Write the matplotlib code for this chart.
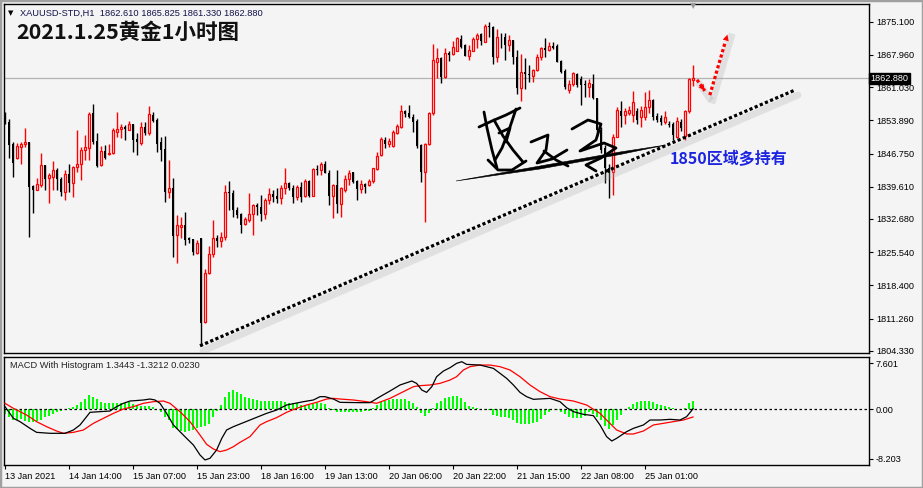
import numpy as np
import matplotlib
matplotlib.use("Agg")
import matplotlib.pyplot as plt
from matplotlib import transforms
from matplotlib.patches import Rectangle, Polygon

# XAUUSD H1 candles (open, high, low, close)
opens = [1854.7, 1853.5, 1848.8, 1845.7, 1848.1, 1848.7, 1849.2, 1839.8, 1839.0, 1839.9,
         1844.2, 1841.4, 1841.8, 1843.1, 1841.3, 1838.5, 1842.3, 1840.5, 1843.8, 1844.6,
         1847.6, 1847.9, 1855.4, 1849.4, 1844.3, 1847.3, 1846.7, 1846.8, 1851.4, 1852.1,
         1852.5, 1851.9, 1853.2, 1849.9, 1849.1, 1852.4, 1851.1, 1855.0, 1853.9, 1849.3,
         1847.7, 1838.4, 1839.3, 1829.3, 1831.0, 1831.4, 1828.5, 1828.3, 1825.3, 1828.5,
         1810.6, 1821.1, 1825.1, 1828.5, 1828.0, 1828.7, 1838.5, 1838.2, 1834.6, 1833.7,
         1831.5, 1832.5, 1833.7, 1835.7, 1835.2, 1833.7, 1836.8, 1838.0, 1837.6, 1837.1,
         1839.3, 1840.3, 1839.4, 1837.3, 1839.5, 1837.6, 1840.9, 1837.7, 1843.4, 1843.1,
         1844.6, 1842.6, 1837.7, 1839.9, 1835.8, 1838.8, 1841.2, 1842.8, 1840.9, 1839.2,
         1840.2, 1840.0, 1840.8, 1843.4, 1846.4, 1849.7, 1848.7, 1848.4, 1851.2, 1852.4,
         1855.9, 1855.4, 1854.7, 1853.7, 1848.6, 1842.8, 1848.7, 1855.4, 1866.5, 1867.2,
         1863.1, 1868.3, 1868.1, 1868.8, 1871.4, 1870.1, 1867.8, 1868.8, 1871.4, 1872.4,
         1870.8, 1874.2, 1874.0, 1867.4, 1871.9, 1871.7, 1870.1, 1871.2, 1867.4, 1860.8,
         1864.2, 1863.9, 1863.5, 1864.7, 1867.4, 1869.4, 1869.0, 1869.9, 1869.9, 1866.6,
         1864.4, 1860.5, 1861.7, 1863.9, 1862.7, 1861.7, 1861.1, 1861.8, 1858.6, 1851.8,
         1848.0, 1843.6, 1842.8, 1850.4, 1855.9, 1855.0, 1855.5, 1855.0, 1855.8, 1854.7,
         1854.7, 1856.8, 1858.3, 1854.8, 1854.3, 1853.6, 1853.2, 1853.2, 1850.4, 1853.6,
         1850.5, 1855.8, 1862.61]
highs = [1855.7, 1854.1, 1849.3, 1849.1, 1849.3, 1852.2, 1849.3, 1840.0, 1841.4, 1846.8,
         1844.3, 1842.5, 1845.1, 1843.6, 1841.6, 1843.2, 1844.6, 1844.1, 1851.9, 1848.2,
         1850.7, 1855.7, 1857.4, 1851.1, 1848.4, 1848.6, 1848.9, 1852.2, 1855.7, 1853.2,
         1852.9, 1853.8, 1853.2, 1851.1, 1853.6, 1853.6, 1857.0, 1855.7, 1854.3, 1850.4,
         1850.5, 1845.4, 1841.4, 1833.5, 1833.2, 1834.2, 1828.9, 1828.3, 1828.2, 1828.5,
         1822.0, 1826.8, 1832.4, 1829.2, 1829.9, 1840.0, 1840.8, 1838.9, 1835.3, 1834.0,
         1833.2, 1838.3, 1835.9, 1836.0, 1837.8, 1837.1, 1839.3, 1838.9, 1839.3, 1840.0,
         1843.6, 1840.7, 1840.0, 1840.0, 1840.7, 1841.3, 1841.1, 1843.6, 1844.3, 1845.0,
         1845.1, 1843.1, 1840.2, 1843.1, 1839.6, 1842.1, 1843.1, 1842.8, 1841.1, 1841.1,
         1840.3, 1841.2, 1843.6, 1847.1, 1850.4, 1850.2, 1850.0, 1851.8, 1853.0, 1857.2,
         1856.1, 1857.2, 1855.2, 1854.1, 1848.9, 1849.1, 1855.7, 1870.2, 1869.4, 1867.4,
         1869.4, 1868.7, 1870.9, 1871.7, 1872.2, 1870.4, 1870.1, 1871.9, 1872.6, 1872.6,
         1874.7, 1875.1, 1874.2, 1873.5, 1872.6, 1872.6, 1872.2, 1871.2, 1869.0, 1868.1,
         1867.2, 1865.8, 1864.9, 1868.1, 1869.7, 1871.5, 1870.7, 1870.8, 1870.2, 1866.9,
         1864.9, 1862.6, 1864.3, 1864.0, 1863.4, 1862.6, 1862.7, 1863.9, 1858.6, 1852.5,
         1848.5, 1844.5, 1851.0, 1856.8, 1858.1, 1856.5, 1857.0, 1860.1, 1856.5, 1857.0,
         1860.0, 1860.3, 1858.5, 1855.5, 1855.0, 1855.8, 1853.8, 1853.5, 1854.5, 1854.2,
         1856.1, 1863.0, 1865.825]
lows = [1853.0, 1845.7, 1841.8, 1845.5, 1844.6, 1848.2, 1828.7, 1834.0, 1838.8, 1839.6,
        1838.9, 1836.0, 1839.0, 1838.9, 1837.7, 1836.8, 1838.5, 1837.3, 1842.8, 1841.1,
        1845.3, 1845.3, 1848.9, 1843.8, 1844.1, 1845.5, 1846.4, 1846.6, 1850.4, 1850.0,
        1849.7, 1851.8, 1847.1, 1846.4, 1848.6, 1850.7, 1850.7, 1853.6, 1847.1, 1845.2,
        1836.4, 1837.1, 1824.6, 1823.1, 1828.5, 1827.1, 1827.6, 1824.9, 1825.1, 1805.3,
        1810.2, 1820.8, 1824.6, 1826.6, 1826.7, 1828.1, 1834.6, 1833.0, 1832.8, 1829.7,
        1831.4, 1832.1, 1829.2, 1833.5, 1832.3, 1832.6, 1835.9, 1836.4, 1836.0, 1835.9,
        1838.0, 1839.0, 1836.2, 1836.8, 1836.4, 1837.3, 1837.5, 1837.7, 1842.1, 1842.1,
        1842.5, 1835.7, 1832.8, 1834.0, 1833.2, 1838.5, 1840.0, 1840.3, 1836.8, 1838.3,
        1838.3, 1839.8, 1840.5, 1843.2, 1846.2, 1847.9, 1848.2, 1848.2, 1850.9, 1852.2,
        1854.7, 1854.3, 1851.4, 1847.9, 1840.7, 1832.1, 1848.6, 1855.0, 1862.9, 1862.0,
        1862.9, 1866.6, 1867.9, 1868.7, 1869.4, 1867.8, 1866.9, 1868.7, 1869.4, 1870.1,
        1870.7, 1871.9, 1866.1, 1866.4, 1869.4, 1866.9, 1868.8, 1865.9, 1859.5, 1858.0,
        1860.6, 1862.2, 1862.2, 1864.5, 1866.9, 1867.6, 1868.8, 1869.2, 1866.4, 1864.0,
        1860.6, 1859.7, 1861.3, 1861.1, 1857.2, 1859.0, 1859.0, 1858.4, 1850.5, 1846.8,
        1840.3, 1837.1, 1837.8, 1850.2, 1852.5, 1853.0, 1855.0, 1853.5, 1853.0, 1852.5,
        1853.9, 1855.5, 1853.9, 1853.6, 1852.8, 1853.2, 1852.5, 1849.7, 1850.0, 1851.5,
        1849.6, 1855.5, 1861.33]
closes = [1853.2, 1848.6, 1844.8, 1848.4, 1848.8, 1849.2, 1839.6, 1838.9, 1840.1, 1844.2,
          1841.2, 1842.1, 1843.1, 1841.2, 1838.5, 1842.3, 1840.5, 1843.8, 1844.6, 1847.6,
          1848.1, 1855.2, 1849.3, 1844.1, 1847.3, 1845.7, 1846.9, 1851.8, 1852.0, 1852.4,
          1852.0, 1853.2, 1849.7, 1849.3, 1852.4, 1851.1, 1855.3, 1853.8, 1848.9, 1847.6,
          1838.4, 1839.3, 1829.1, 1831.3, 1831.4, 1828.1, 1828.1, 1825.6, 1827.4, 1810.2,
          1821.0, 1825.1, 1828.5, 1828.0, 1828.9, 1838.4, 1838.2, 1834.6, 1833.5, 1831.4,
          1832.6, 1833.7, 1835.7, 1835.2, 1833.7, 1836.8, 1838.0, 1837.5, 1837.0, 1839.3,
          1840.3, 1839.3, 1837.3, 1839.5, 1837.5, 1840.8, 1837.7, 1843.4, 1843.1, 1844.6,
          1842.6, 1837.7, 1839.9, 1835.8, 1839.4, 1841.2, 1842.6, 1840.7, 1839.2, 1840.2,
          1839.6, 1840.8, 1843.6, 1846.2, 1849.8, 1848.7, 1849.4, 1851.3, 1852.7, 1855.9,
          1855.2, 1854.5, 1853.6, 1848.4, 1842.8, 1848.8, 1855.4, 1866.9, 1867.2, 1863.1,
          1868.3, 1867.9, 1869.7, 1871.5, 1869.7, 1867.8, 1869.0, 1871.4, 1872.2, 1870.9,
          1874.2, 1874.0, 1867.4, 1871.9, 1871.7, 1870.1, 1871.2, 1867.4, 1860.8, 1864.2,
          1863.9, 1863.6, 1864.7, 1867.6, 1869.4, 1869.0, 1869.9, 1869.5, 1866.5, 1864.3,
          1861.0, 1861.7, 1864.0, 1861.5, 1861.5, 1861.5, 1862.0, 1858.6, 1851.8, 1847.5,
          1843.6, 1842.6, 1850.4, 1856.0, 1854.8, 1855.8, 1856.1, 1857.9, 1854.0, 1856.1,
          1856.8, 1858.3, 1854.7, 1854.0, 1853.6, 1854.5, 1852.9, 1850.7, 1853.8, 1852.2,
          1855.8, 1862.7, 1862.88]

# MACD histogram, one value per candle
hist = [-0.9, -1.3, -1.8, -1.9, -1.7, -2.0, -2.1, -2.1, -2.0, -1.8,
        -1.4, -1.1, -0.9, -0.55, -0.3, -0.05, 0.1, 0.4, 0.65, 1.2,
        1.65, 2.3, 2.0, 1.65, 1.2, 0.95, 0.95, 0.95, 0.95, 1.05,
        1.05, 1.2, 0.8, 0.65, 0.55, 0.55, 0.5, 0.4, 0.0, -0.45,
        -1.3, -1.8, -3.1, -3.3, -3.6, -3.75, -3.6, -3.5, -3.2, -2.9,
        -2.75, -2.4, -1.3, -0.3, 0.65, 2.0, 2.85, 3.1, 2.85, 2.4,
        2.0, 1.75, 1.65, 1.5, 1.3, 1.3, 1.3, 1.3, 1.3, 1.3,
        1.2, 0.95, 0.95, 0.95, 0.65, 0.65, 0.65, 0.75, 0.95, 0.95,
        0.75, 0.2, -0.15, -0.55, -0.55, -0.55, -0.5, -0.5, -0.5, -0.5,
        -0.4, -0.3, 0.1, 0.65, 1.1, 1.3, 1.5, 1.65, 1.65, 1.65,
        1.6, 1.3, 0.95, 0.4, -0.7, -1.1, -0.7, 0.1, 0.95, 1.4,
        1.9, 2.05, 2.15, 2.15, 1.75, 1.1, 0.55, 0.4, 0.2, -0.05,
        -0.15, -0.15, -1.0, -1.15, -1.25, -1.4, -1.55, -1.8, -2.35, -2.55,
        -2.55, -2.55, -2.35, -2.1, -1.65, -1.0, -0.45, 0.0, -0.15, -0.45,
        -0.9, -1.25, -1.45, -1.45, -1.45, -1.1, -0.45, -0.9, -1.25, -1.8,
        -2.75, -3.3, -2.65, -1.8, -1.0, 0.0, 0.4, 0.8, 1.1, 1.3,
        1.3, 1.3, 1.1, 0.8, 0.65, 0.5, 0.3, 0.1, 0.0, -0.15,
        0.1, 0.95, 1.3443]

# MACD main line (black) and signal line (red), read at these candle indices
macd_idx = [0, 2.1, 3.75, 6.25, 7.9, 11.25, 15, 17.1, 18.75, 20.4, 21.25, 23.75, 26.25,
            27.9, 29.6, 31.25, 34.6, 36.25, 37.5, 38.75, 40.4, 42.1, 43.75, 45.4, 47.1,
            48.75, 50, 51.25, 52.9, 54.2, 55.4, 57.1, 61.25, 65.4, 67.9, 70.4, 74.6, 77.1,
            78.75, 80, 82.1, 83.75, 88.75, 91.25, 93.75, 96.25, 98.75, 101.7, 102.9, 104.2,
            105.4, 106.7, 107.9, 109.6, 111.25, 112.9, 114.2, 115.4, 118.75, 122.1, 123.75,
            125.4, 127.1, 128.75, 130.4, 132.1, 136.25, 138.75, 140.4, 142.1, 144.6, 147.1,
            148.75, 150.4, 151.7, 152.9, 155.4, 157.1, 159.6, 161.25, 163.75, 166.25,
            168.75, 170.4, 172]
macd_val = [0.39, -1.54, -2.09, -3.2, -3.86, -4.02, -4.02, -3.47, -2.64, -1.27, -0.55,
            -0.44, -0.33, 0.39, 0.94, 1.32, 1.49, 1.65, 1.49, 0.94, -0.72, -2.64, -3.75,
            -4.85, -5.95, -7.6, -8.43, -8.15, -6.78, -4.85, -3.47, -2.92, -1.82, -0.72,
            -0.17, 0.66, 1.21, 1.49, 2.04, 2.04, 1.65, 1.1, 1.05, 1.05, 2.04, 2.98, 3.97,
            4.63, 4.24, 3.14, 2.75, 3.69, 5.34, 6.28, 6.83, 7.55, 7.82, 7.38, 7.27, 6.72,
            5.9, 5.07, 3.97, 2.75, 2.04, 1.6, 1.76, 1.21, 0.22, -0.44, -0.88, -1.1, -2.64,
            -4.57, -5.29, -4.85, -3.75, -3.2, -2.64, -1.82, -1.82, -1.71, -1.82, -1.27,
            0.023]
signal_idx = [0, 2.1, 5.4, 7.9, 10.4, 12.9, 14.6, 17.1, 19.6, 22.1, 24.6, 27.1, 29.6,
              32.1, 34.6, 37.1, 39.6, 41.25, 43.75, 46.25, 48.75, 50.4, 52.1, 53.75,
              55.4, 57.1, 58.75, 61.25, 63.75, 65.4, 67.9, 70.4, 72.9, 75.4, 77.9, 80.4,
              82.1, 83.75, 87.1, 90.4, 92.9, 96.25, 99.6, 102.1, 103.75, 106.25, 108.75,
              111.25, 112.9, 114.6, 116.25, 118.75, 121.25, 123.75, 126.25, 128.75,
              131.25, 133.75, 136.25, 138.75, 142.1, 145.4, 148.75, 150.4, 152.9, 155.4,
              157.1, 159.6, 162.1, 164.6, 167.1, 169.6, 172]
signal_val = [0.94, 0.11, -0.99, -2.09, -2.92, -3.64, -4.02, -3.86, -3.47, -2.37, -1.54,
              -0.72, 0.0, 0.39, 0.94, 1.21, 1.32, 0.94, -0.44, -2.09, -4.3, -5.84, -6.61,
              -7.05, -6.78, -6.23, -5.51, -4.57, -2.64, -2.09, -1.43, -0.55, 0.11, 0.66,
              1.1, 1.65, 1.76, 1.65, 1.49, 1.21, 0.94, 1.76, 2.87, 3.69, 3.86, 3.97, 4.24,
              4.79, 5.34, 6.45, 7.0, 7.27, 7.27, 7.0, 6.45, 5.34, 3.97, 2.87, 2.04, 1.65,
              1.32, 0.66, -0.72, -1.82, -3.47, -4.13, -4.13, -3.64, -2.64, -2.37, -2.09,
              -1.82, -1.3212]

price_ticks = [1875.100, 1867.960, 1861.030, 1853.890, 1846.750, 1839.610,
               1832.680, 1825.540, 1818.400, 1811.260, 1804.330]
macd_ticks = [7.601, 0.0, -8.203]
macd_tick_labels = ['7.601', '0.00', '-8.203']
time_labels = ['13 Jan 2021', '14 Jan 14:00', '15 Jan 07:00', '15 Jan 23:00',
               '18 Jan 16:00', '19 Jan 13:00', '20 Jan 06:00', '20 Jan 22:00',
               '21 Jan 15:00', '22 Jan 08:00', '25 Jan 01:00']
time_label_idx = [0, 16, 32, 48, 64, 80, 96, 112, 128, 144, 160]
last_price = 1862.88

# support line and the projected path (candle index, price)
trend_x = [48.75, 197.5]
trend_y = [1805.4, 1860.4]
path1_x = [173.0, 175.3]
path1_y = [1862.6, 1859.8]
path2_x = [176.2, 180.8]
path2_y = [1859.3, 1872.9]

# rough hand-signature watermark, in screen pixels (x right, y down)
sig_strokes = [
    [(484, 112), (487, 128), (492, 150), (497, 168)],
    [(479, 127), (492, 121), (506, 115), (520, 108)],
    [(494, 120), (503, 136), (513, 150), (523, 162)],
    [(516, 109), (509, 130), (502, 148), (495, 160)],
    [(488, 160), (498, 170), (512, 170), (526, 161)],
    [(499, 133), (510, 128), (506, 142)],
    [(531, 142), (548, 135), (546, 150), (537, 163), (552, 159), (567, 150)],
    [(544, 151), (556, 160), (568, 166)],
    [(572, 129), (588, 120), (601, 124), (596, 140), (580, 151), (604, 143),
     (616, 148), (601, 158), (586, 165), (596, 171)],
]
sig_sweep = [(456, 181), (540, 166), (620, 152), (666, 145), (620, 154.5), (540, 169)]

BG = '#f4f4f4'
plt.rcParams['font.family'] = ['Liberation Sans', 'DejaVu Sans']

fig = plt.figure(figsize=(9.23, 4.88), dpi=100, facecolor=BG)
W, H = 923.0, 488.0
ax = fig.add_axes([4 / W, 1 - 353 / H, 865 / W, 349 / H], facecolor=BG)
ax2 = fig.add_axes([4 / W, 1 - 465 / H, 865 / W, 108 / H], facecolor=BG, sharex=ax)

x = np.arange(len(closes))
o = np.array(opens); c = np.array(closes); h = np.array(highs); l = np.array(lows)
up = c >= o
top = np.maximum(o, c); bot = np.minimum(o, c)

# wicks
ax.vlines(x[up], l[up], h[up], color='red', lw=1.0, zorder=2)
ax.vlines(x[~up], l[~up], h[~up], color='black', lw=1.0, zorder=2)
# bodies
ax.bar(x[up], np.maximum(top[up] - bot[up], 0.12), bottom=bot[up], width=0.5,
       facecolor=BG, edgecolor='red', linewidth=0.9, zorder=3)
ax.bar(x[~up], np.maximum(top[~up] - bot[~up], 0.12), bottom=bot[~up], width=0.62,
       color='black', linewidth=0, zorder=3)

ax.axhline(last_price, color='#b4b4b4', lw=0.9, zorder=1)

# dotted support line with soft shadow
shadow = transforms.offset_copy(ax.transData, fig=fig, x=3, y=-5, units='dots')
ax.plot(trend_x, trend_y, color='#a8a8a8', lw=5, alpha=0.25, transform=shadow,
        solid_capstyle='round', zorder=4)
ax.plot(trend_x, trend_y, color='black', lw=2.3, ls=(0, (1, 0.75)),
        dash_capstyle='butt', zorder=5)

for px, py in [(path1_x, path1_y), (path2_x, path2_y)]:
    ax.plot(px, py, color='#a8a8a8', lw=5, alpha=0.25, transform=shadow, zorder=4)
    ax.plot(px[:1] + [px[0] + 0.85 * (px[1] - px[0])],
            py[:1] + [py[0] + 0.85 * (py[1] - py[0])],
            color='red', lw=2.3, ls=(0, (1, 0.75)), dash_capstyle='butt', zorder=5)
    ax.annotate('', xy=(px[1], py[1]), xytext=(px[0] + 0.6 * (px[1] - px[0]),
                                                 py[0] + 0.6 * (py[1] - py[0])),
                arrowprops=dict(arrowstyle='-|>', color='red', lw=0,
                                mutation_scale=11), zorder=6)

# signature watermark drawn in pixel space
pix = transforms.Affine2D().scale(1, -1).translate(0, H)
for stroke in sig_strokes:
    sx, sy = zip(*stroke)
    ax.plot(sx, sy, color='black', lw=2.0, transform=pix, solid_capstyle='round',
            solid_joinstyle='round', zorder=6)
ax.add_patch(Polygon(sig_sweep, closed=True, facecolor='black', edgecolor='black',
                     lw=0.4, transform=pix, zorder=6))

ax.set_xlim(-0.25, 216)
ax.set_ylim(1803.85, 1878.9)
ax.yaxis.tick_right()
ax.set_yticks(price_ticks)
ax.set_yticklabels(['%.3f' % v for v in price_ticks])
ax.tick_params(axis='y', direction='out', length=3, width=0.8, labelsize=6.6, pad=2)
ax.tick_params(axis='x', bottom=False, labelbottom=False)
for s in ax.spines.values():
    s.set_linewidth(1.0)

ax.text(1.002, last_price, '%.3f' % last_price, transform=ax.get_yaxis_transform(),
        color='white', fontsize=6.6, va='center', ha='left',
        bbox=dict(boxstyle='square,pad=0.15', facecolor='black', edgecolor='black'))

# MACD panel
ax2.bar(x, hist, width=0.6, color='#00ff00', linewidth=0, zorder=2)
ax2.axhline(0, color='black', lw=0.9, ls=(0, (2, 2)), zorder=3)
ax2.plot(signal_idx, signal_val, color='red', lw=0.9, zorder=4)
ax2.plot(macd_idx, macd_val, color='black', lw=0.9, zorder=5)
ax2.set_ylim(-9.26, 8.6)
ax2.yaxis.tick_right()
ax2.set_yticks(macd_ticks)
ax2.set_yticklabels(macd_tick_labels)
ax2.tick_params(axis='y', direction='out', length=3, width=0.8, labelsize=6.6, pad=2)
ax2.set_xticks(time_label_idx)
ax2.set_xticklabels(time_labels)
ax2.tick_params(axis='x', direction='out', length=3, width=0.8, labelsize=6.6, pad=2)
for lbl in ax2.get_xticklabels():
    lbl.set_ha('left')
for s in ax2.spines.values():
    s.set_linewidth(1.0)

# texts
fig.text(11 / W, 1 - 13 / H, '\u25bc', fontsize=5, ha='center', va='center',
         family='DejaVu Sans', color='black')
fig.text(20 / W, 1 - 13 / H, 'XAUUSD-STD,H1  1862.610 1865.825 1861.330 1862.880',
         fontsize=6.7, color='#12124a', va='center', ha='left')
fig.text(16 / W, 1 - 32 / H, '2021.1.25黄金1小时图', fontsize=15.5, fontweight='bold',
         family=['Noto Sans CJK SC', 'DejaVu Sans'], color='#111111', va='center', ha='left')
ax.text(166.3, 1845.6, '1850区域多持有', fontsize=11.5, fontweight='bold',
        family=['Noto Sans CJK SC', 'DejaVu Sans'], color='#1c24e0', va='center', ha='left')
fig.text(10 / W, 1 - 366 / H, 'MACD With Histogram 1.3443 -1.3212 0.0230',
         fontsize=6.7, color='#222222', va='center', ha='left')
fig.text(693 / W, 1 - 6 / H, '\u25bc', fontsize=6, ha='center', va='center',
         family='DejaVu Sans', color='#9a9a9a')

# window frame
fig.patches.append(Rectangle((0, 0), 1, 1, transform=fig.transFigure, fill=False,
                             edgecolor='#a0a0a0', linewidth=2.5))

fig.savefig('out.png', dpi=100, facecolor=BG)
